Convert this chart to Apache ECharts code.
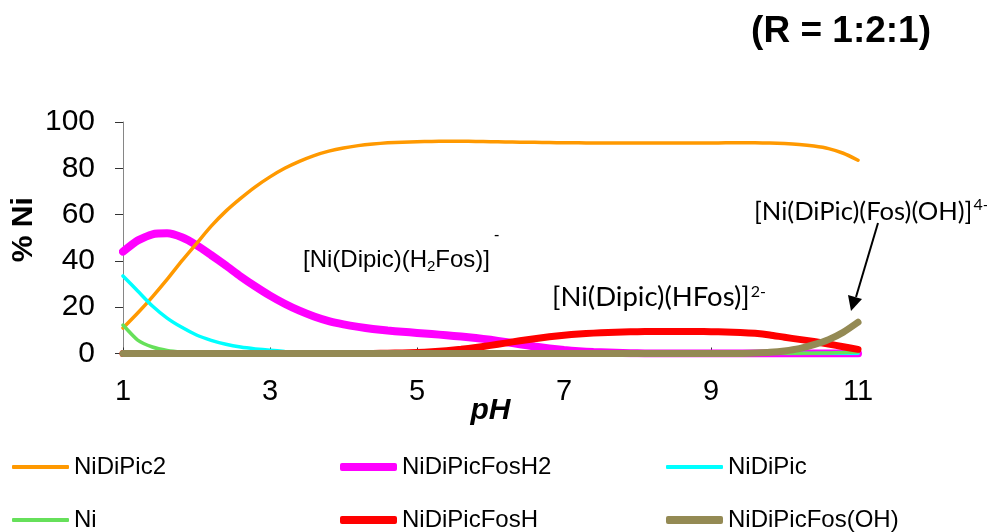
<!DOCTYPE html>
<html>
<head>
<meta charset="utf-8">
<script src="https://cdn.jsdelivr.net/npm/echarts@6/dist/echarts.min.js"></script>
<style>
  html, body { margin: 0; padding: 0; background: #fff; }
  #chart { width: 987px; height: 532px; }
</style>
</head>
<body>
<div id="chart"></div>
<script>
// pH grid of the speciation calculation
const pH = [1.0, 1.2, 1.4, 1.6, 1.8, 2.0, 2.2, 2.4, 2.6, 2.8,
            3.0, 3.2, 3.4, 3.6, 3.8, 4.0, 4.2, 4.4, 4.6, 4.8,
            5.0, 5.2, 5.4, 5.6, 5.8, 6.0, 6.2, 6.4, 6.6, 6.8,
            7.0, 7.2, 7.4, 7.6, 7.8, 8.0, 8.2, 8.4, 8.6, 8.8,
            9.0, 9.2, 9.4, 9.6, 9.8, 10.0, 10.2, 10.4, 10.6, 10.8, 11.0];

// % Ni present as each species
const NiDiPic2 = [11, 17.5, 24.5, 32, 40, 47.5, 55, 61.5, 67, 72,
                  76.3, 80, 83, 85.5, 87.4, 88.8, 89.8, 90.5, 91, 91.3,
                  91.5, 91.6, 91.7, 91.7, 91.6, 91.5, 91.4, 91.3, 91.2, 91.1,
                  91.0, 91.0, 90.9, 90.9, 90.9, 90.9, 90.9, 90.9, 90.9, 90.9,
                  90.9, 91.0, 91.0, 91.0, 90.9, 90.7, 90.3, 89.6, 88.5, 86.5, 83.5];
const NiDiPicFosH2 = [44, 48.8, 51.5, 51.9, 50.2, 46.8, 42.5, 38, 33.3, 29,
                      25, 21.5, 18.5, 16, 14, 12.6, 11.5, 10.6, 9.9, 9.4,
                      8.9, 8.4, 7.9, 7.3, 6.7, 5.9, 5.0, 4.0, 3.0, 2.2,
                      1.5, 1.0, 0.6, 0.4, 0.2, 0.1, 0, 0, 0, 0,
                      0, 0, 0, 0, 0, 0, 0, 0, 0, 0, 0];
const NiDiPic = [33.5, 27, 20.5, 15.3, 11.3, 8.0, 5.7, 4.0, 2.8, 2.0,
                 1.4, 0.9, 0.6, 0.4, 0.25, 0.15, 0.1, 0.05, 0, 0,
                 0, 0, 0, 0, 0, 0, 0, 0, 0, 0,
                 0, 0, 0, 0, 0, 0, 0, 0, 0, 0,
                 0, 0, 0, 0, 0, 0, 0, 0, 0, 0, 0];
const Ni = [12.3, 5.8, 2.8, 1.3, 0.6, 0.3, 0.1, 0, 0, 0,
            0, 0, 0, 0, 0, 0, 0, 0, 0, 0,
            0, 0, 0, 0, 0, 0, 0, 0, 0, 0,
            0, 0, 0, 0, 0, 0, 0, 0, 0, 0,
            0, 0, 0, 0, 0, 0, 0.05, 0.1, 0.25, 0.45, 0.7];
const NiDiPicFosH = [0, 0, 0, 0, 0, 0, 0, 0, 0, 0,
                     0, 0, 0, 0, 0, 0, 0, 0.05, 0.1, 0.25,
                     0.45, 0.75, 1.2, 1.8, 2.6, 3.5, 4.5, 5.5, 6.4, 7.2,
                     7.9, 8.4, 8.8, 9.1, 9.3, 9.4, 9.5, 9.5, 9.5, 9.5,
                     9.4, 9.3, 9.1, 8.7, 8.0, 7.0, 6.1, 5.2, 4.1, 2.9, 1.8];
const NiDiPicFosOH = [0, 0, 0, 0, 0, 0, 0, 0, 0, 0,
                      0, 0, 0, 0, 0, 0, 0, 0, 0, 0,
                      0, 0, 0, 0, 0, 0, 0, 0, 0, 0,
                      0, 0, 0, 0, 0, 0, 0, 0, 0, 0,
                      0, 0, 0, 0.2, 0.5, 1.1, 2.1, 3.8, 6.0, 9.2, 13.5];

const xTicks = [1, 3, 5, 7, 9, 11];
const yTicks = [0, 20, 40, 60, 80, 100];

const SANS = '"Liberation Sans", Arial, sans-serif';
const CAL = 'Lato, "Open Sans", sans-serif';

function pairs(ys) { return pH.map((x, i) => [x, ys[i]]); }

// drawn in this order; later series sit on top
const seriesDefs = [
  { name: 'NiDiPicFosH2',    data: NiDiPicFosH2, color: '#FF00FF', width: 8 },
  { name: 'NiDiPic2',        data: NiDiPic2,     color: '#FF9900', width: 3.5 },
  { name: 'NiDiPic',         data: NiDiPic,      color: '#00FFFF', width: 3.5 },
  { name: 'Ni',              data: Ni,           color: '#66E05A', width: 3.5 },
  { name: 'NiDiPicFosH',     data: NiDiPicFosH,  color: '#FF0000', width: 7 },
  { name: 'NiDiPicFos(OH)',  data: NiDiPicFosOH, color: '#948A54', width: 7 }
];

// legend slots: name, column x, row y, icon thickness
const legendSlots = [
  ['NiDiPic2', 12, 455, 4], ['NiDiPicFosH2', 340, 455, 8], ['NiDiPic', 666, 455, 4],
  ['Ni', 12, 508, 4], ['NiDiPicFosH', 340, 508, 8], ['NiDiPicFos(OH)', 666, 508, 8]
];

const chart = echarts.init(document.getElementById('chart'), null, { renderer: 'canvas' });

chart.setOption({
  animation: false,
  backgroundColor: '#ffffff',
  title: {
    text: '(R = 1:2:1)',
    right: 51,
    top: 8,
    textStyle: { fontFamily: SANS, fontSize: 37, fontWeight: 'bold', color: '#000' }
  },
  grid: { left: 123, right: 129, top: 122, bottom: 178.5, containLabel: false },
  xAxis: {
    type: 'value',
    min: 1, max: 11, interval: 2,
    name: 'pH',
    nameLocation: 'middle',
    nameGap: 42,
    nameMoveOverlap: false,
    nameTextStyle: { fontFamily: SANS, fontSize: 30, fontWeight: 'bold', fontStyle: 'italic', color: '#000' },
    axisLine: { show: true, lineStyle: { color: '#868686', width: 1 } },
    axisTick: { show: true, inside: true, length: 6, lineStyle: { color: '#333' } },
    minorTick: { show: true, splitNumber: 5, length: 3, lineStyle: { color: '#333' } },
    splitLine: { show: false },
    axisLabel: {
      fontFamily: SANS, fontSize: 29, color: '#000', margin: 24,
      formatter: v => (xTicks.indexOf(v) >= 0 ? String(v) : '')
    }
  },
  yAxis: {
    type: 'value',
    min: 0, max: 100, interval: 20,
    name: '% Ni',
    nameLocation: 'middle',
    nameGap: 84,
    nameMoveOverlap: false,
    nameTextStyle: { fontFamily: SANS, fontSize: 30, fontWeight: 'bold', color: '#000', padding: [0, 0, 0, 16] },
    axisLine: { show: true, lineStyle: { color: '#868686', width: 1 } },
    axisTick: { show: true, inside: false, length: 8, lineStyle: { color: '#333' } },
    splitLine: { show: false },
    axisLabel: {
      fontFamily: SANS, fontSize: 30, color: '#000', margin: 28,
      formatter: v => (yTicks.indexOf(v) >= 0 ? String(v) : '')
    }
  },
  legend: legendSlots.map(([name, x, y, h]) => ({
    data: [name],
    left: x,
    top: y,
    icon: 'roundRect',
    itemWidth: 57,
    itemHeight: h,
    selectedMode: false,
    padding: 0,
    textStyle: { fontFamily: SANS, fontSize: 24, color: '#000', padding: [0, 0, 0, 0] }
  })),
  series: seriesDefs.map(s => ({
    name: s.name,
    type: 'line',
    data: pairs(s.data),
    showSymbol: false,
    symbol: 'none',
    smooth: 0.2,
    color: s.color,
    lineStyle: { color: s.color, width: s.width, cap: 'round', join: 'round' },
    emphasis: { disabled: true }
  })),
  graphic: [
    {
      type: 'text', left: 303, top: 248,
      style: {
        text: '{a|[Ni(Dipic)(H}{s|2}{a|Fos)]}',
        rich: {
          a: { fontFamily: SANS, fontSize: 24, lineHeight: 28, verticalAlign: 'middle', fill: '#000' },
          s: { fontFamily: SANS, fontSize: 15, verticalAlign: 'bottom', fill: '#000' }
        }
      }
    },
    {
      type: 'text', left: 494, top: 228,
      style: { text: '-', fontFamily: SANS, fontSize: 16, fill: '#000' }
    },
    {
      type: 'text', left: 552, top: 283,
      style: {
        text: '{a|[Ni(Dipic)(HFos)]}{p|2-}',
        rich: {
          a: { fontFamily: CAL, fontSize: 27.5, lineHeight: 32, verticalAlign: 'middle', fill: '#000' },
          p: { fontFamily: CAL, fontSize: 16, verticalAlign: 'top', fill: '#000', padding: [3, 0, 0, 1] }
        }
      }
    },
    {
      type: 'text', left: 754, top: 197,
      style: {
        text: '{a|[Ni(DiPic)(Fos)(OH)]}{p|4-}',
        rich: {
          a: { fontFamily: CAL, fontSize: 25.6, lineHeight: 32, verticalAlign: 'middle', fill: '#000' },
          p: { fontFamily: CAL, fontSize: 16, verticalAlign: 'top', fill: '#000', padding: [1, 0, 0, 1] }
        }
      }
    },
    {
      type: 'line',
      shape: { x1: 878, y1: 223, x2: 856, y2: 297 },
      style: { stroke: '#000', lineWidth: 2 }
    },
    {
      type: 'polygon',
      shape: { points: [[851, 311], [862, 299], [848, 295]] },
      style: { fill: '#000' }
    }
  ]
});
</script>
</body>
</html>
